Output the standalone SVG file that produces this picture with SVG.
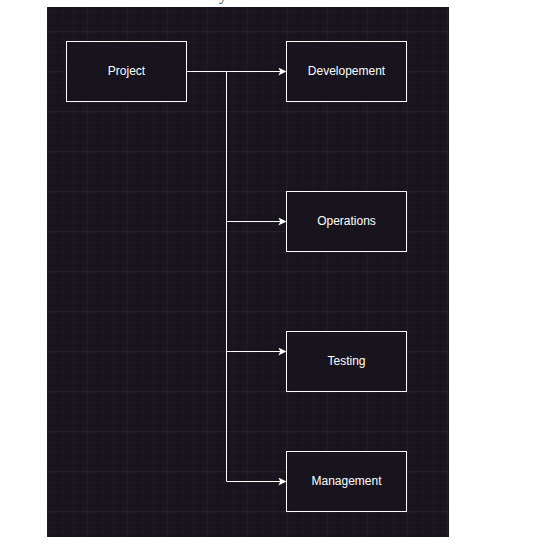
<svg xmlns="http://www.w3.org/2000/svg" width="537" height="544" viewBox="0 0 537 544">
  <defs>
    <pattern id="minorGrid" patternUnits="userSpaceOnUse" x="6.5" y="31" width="10" height="10">
      <path d="M0 0V10M0 0H10" fill="none" stroke="#221e27" stroke-width="1"/>
    </pattern>
    <pattern id="majorGrid" patternUnits="userSpaceOnUse" x="6.5" y="31" width="40" height="40">
      <rect width="40" height="40" fill="url(#minorGrid)"/>
      <path d="M0 0V40M0 0H40" fill="none" stroke="#2e2b33" stroke-width="1"/>
    </pattern>
    <marker id="arrow" viewBox="0 0 10 10" refX="9" refY="5" markerWidth="8" markerHeight="8" markerUnits="userSpaceOnUse" orient="auto">
      <path d="M0 0L10 5L0 10L2.5 5Z" fill="#ffffff"/>
    </marker>
    <style>
      .box { fill: #18141d; stroke: #ffffff; stroke-width: 1; }
      .label { font-family: "Liberation Sans", Arial, sans-serif; font-size: 12px; fill: #ffffff; text-anchor: middle; }
      .edge { fill: none; stroke: #ffffff; stroke-width: 1; }
    </style>
  </defs>

  <rect width="537" height="544" fill="#ffffff"/>
  <text x="219" y="-0.5" font-family="Liberation Serif, serif" font-size="16" fill="#333333">y</text>

  <!-- canvas -->
  <rect x="47" y="7" width="402" height="530" fill="#18141d"/>
  <rect x="47" y="7" width="402" height="530" fill="url(#majorGrid)"/>

  <!-- connectors -->
  <g id="connectors">
    <path class="edge" d="M186.5 71.5H226.5V481.5"/>
    <path class="edge" d="M226.5 71.5H285.5" marker-end="url(#arrow)"/>
    <path class="edge" d="M226.5 221.5H285.5" marker-end="url(#arrow)"/>
    <path class="edge" d="M226.5 351.5H285.5" marker-end="url(#arrow)"/>
    <path class="edge" d="M226.5 481.5H285.5" marker-end="url(#arrow)"/>
  </g>

  <g id="project">
    <rect class="box" x="66.5" y="41.5" width="120" height="60"/>
    <text class="label" x="126.5" y="74.5">Project</text>
  </g>
  <g id="developement">
    <rect class="box" x="286.5" y="41.5" width="120" height="60"/>
    <text class="label" x="346.5" y="74.5">Developement</text>
  </g>
  <g id="operations">
    <rect class="box" x="286.5" y="191.5" width="120" height="60"/>
    <text class="label" x="346.5" y="224.5">Operations</text>
  </g>
  <g id="testing">
    <rect class="box" x="286.5" y="331.5" width="120" height="60"/>
    <text class="label" x="346.5" y="364.5">Testing</text>
  </g>
  <g id="management">
    <rect class="box" x="286.5" y="451.5" width="120" height="60"/>
    <text class="label" x="346.5" y="484.5">Management</text>
  </g>
</svg>
